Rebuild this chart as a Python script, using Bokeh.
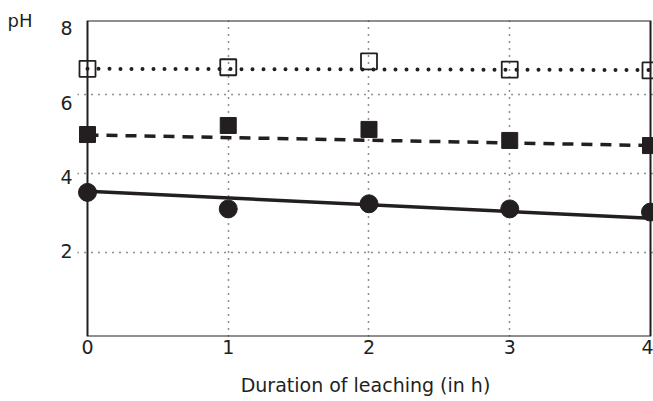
from bokeh.plotting import figure
from bokeh.models import FixedTicker, BoxAnnotation, Range1d, LinearAxis
from bokeh.embed import file_html
from bokeh.resources import INLINE

# ---- data ----
hours = [0, 1, 2, 3, 4]
ph_open = [6.66, 6.70, 6.85, 6.64, 6.62]      # open squares
ph_filled = [4.99, 5.22, 5.12, 4.84, 4.71]    # filled squares
ph_circle = [3.52, 3.10, 3.23, 3.10, 3.02]    # filled circles
trend_x = [0, 4]
trend_open = [6.66, 6.63]
trend_filled = [4.98, 4.71]
trend_circle = [3.55, 2.86]
x_ticks = [0, 1, 2, 3, 4]
y_ticks = [2, 4, 6]
y_label_ticks = [2, 4, 6, 8]
y_title = "pH"

INK = "#231f20"
FONT = "DejaVu Sans"

X_START, X_END = -0.071, 4.0213
Y_START, Y_END = -0.1425, 7.888
LBL_START, LBL_END = -0.2955, 8.208   # scale of the printed y tick labels

p = figure(width=653, height=401, output_backend="svg", toolbar_location=None,
           x_range=Range1d(X_START, X_END), y_range=Range1d(Y_START, Y_END),
           min_border_left=77, min_border_right=0, min_border_top=20, min_border_bottom=65)
p.outline_line_color = None
p.background_fill_color = "white"
p.border_fill_color = "white"

# axes
p.yaxis[0].visible = False
p.extra_y_ranges = {"labels": Range1d(LBL_START, LBL_END), "title": Range1d(0, 1)}
lab_ax = LinearAxis(y_range_name="labels", ticker=FixedTicker(ticks=y_label_ticks))
p.add_layout(lab_ax, "left")
ttl_ax = LinearAxis(y_range_name="title", ticker=FixedTicker(ticks=[1]),
                    major_label_overrides={1: y_title})
p.add_layout(ttl_ax, "left")

p.xaxis.ticker = FixedTicker(ticks=x_ticks)
for ax in (p.xaxis[0], lab_ax, ttl_ax):
    ax.axis_line_color = None
    ax.major_tick_line_color = None
    ax.minor_tick_line_color = None
    ax.major_tick_out = 0
    ax.major_tick_in = 0
    ax.major_label_text_font = FONT
    ax.major_label_text_font_size = "19px"
    ax.major_label_text_color = INK
ttl_ax.major_label_text_font_size = "18px"
ttl_ax.major_label_standoff = 25
lab_ax.major_label_standoff = 5
p.xaxis.major_label_standoff = 3
p.xaxis.axis_label = "Duration of leaching (in h)"
p.xaxis.axis_label_text_font = FONT
p.xaxis.axis_label_text_font_size = "19px"
p.xaxis.axis_label_text_font_style = "normal"
p.xaxis.axis_label_text_color = INK
p.xaxis.axis_label_standoff = 17

# grid
p.xgrid.ticker = FixedTicker(ticks=[1, 2, 3])
p.ygrid.ticker = FixedTicker(ticks=y_ticks)
for g in (p.xgrid[0], p.ygrid[0]):
    g.grid_line_color = INK
    g.grid_line_width = 1.5
    g.grid_line_dash = [1, 6]

# frame box between x=0 and x=4
p.add_layout(BoxAnnotation(left=0, right=4, fill_alpha=0, line_color=INK,
                           line_alpha=1, line_width=2))

# trend lines
p.line(trend_x, trend_open, line_color=INK, line_width=4, line_dash="0 11", line_cap="round")
p.line(trend_x, trend_filled, line_color=INK, line_width=3.5, line_dash="11 8")
p.line(trend_x, trend_circle, line_color=INK, line_width=3.5)

# markers
p.scatter(hours, ph_open, marker="square", size=16, fill_alpha=0, line_color=INK, line_width=1.8)
p.scatter(hours, ph_filled, marker="square", size=16, fill_color=INK, line_color=INK)
p.scatter(hours, ph_circle, marker="circle", size=18, fill_color=INK, line_color=INK)

open("out.html", "w").write(file_html(p, INLINE))
